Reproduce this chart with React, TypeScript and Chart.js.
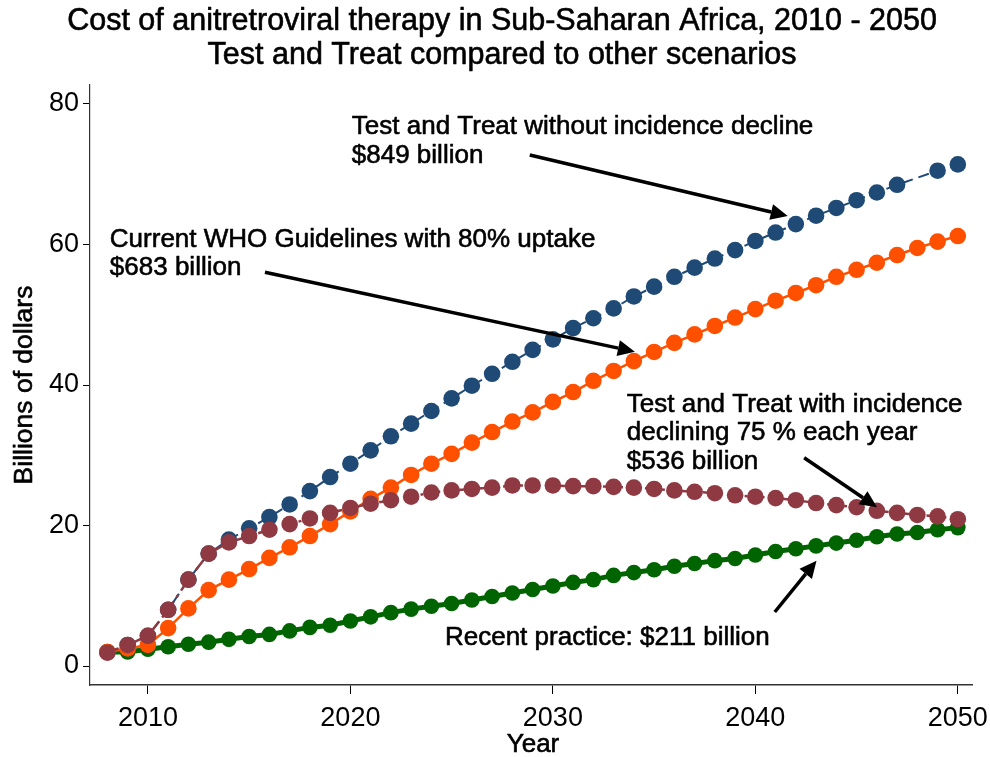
import React, { useEffect, useRef } from "react";
import { Chart, registerables } from "chart.js";

Chart.register(...registerables);

const years = [
  2008, 2009, 2010, 2011, 2012, 2013, 2014, 2015, 2016, 2017, 2018, 2019, 2020, 2021, 2022,
  2023, 2024, 2025, 2026, 2027, 2028, 2029, 2030, 2031, 2032, 2033, 2034, 2035, 2036, 2037,
  2038, 2039, 2040, 2041, 2042, 2043, 2044, 2045, 2046, 2047, 2048, 2049, 2050,
];

const testTreatNoDecline = [
  2.0, 3.0, 4.3, 8.0, 12.3, 16.0, 18.0, 19.6, 21.2, 23.0, 24.9, 26.9, 28.8, 30.7, 32.7,
  34.5, 36.3, 38.1, 39.9, 41.6, 43.3, 45.0, 46.5, 48.1, 49.5, 50.9, 52.6, 54.0, 55.4, 56.7,
  58.0, 59.2, 60.5, 61.7, 62.9, 64.1, 65.2, 66.3, 67.4, 68.5, null, 70.5, 71.4,
];

const whoGuidelines = [
  2.0, 2.5, 3.0, 5.4, 8.2, 10.8, 12.3, 13.8, 15.4, 16.9, 18.5, 20.2, 22.0, 23.8, 25.4,
  27.2, 28.8, 30.2, 31.8, 33.3, 34.8, 36.1, 37.6, 39.0, 40.6, 42.0, 43.4, 44.7, 46.0, 47.2,
  48.4, 49.6, 50.8, 52.0, 53.1, 54.2, 55.4, 56.4, 57.4, 58.5, 59.5, 60.4, 61.2,
];

const testTreatDecline = [
  1.9, 3.0, 4.3, 8.0, 12.3, 16.0, 17.6, 18.5, 19.4, 20.2, 21.0, 21.8, 22.5, 23.1, 23.6,
  24.1, 24.7, 25.0, 25.2, 25.4, 25.7, 25.7, 25.7, 25.6, 25.6, 25.5, 25.4, 25.2, 25.0, 24.8,
  24.6, 24.3, 24.1, 23.9, 23.6, 23.2, 22.9, 22.6, 22.1, 21.8, 21.5, 21.3, 20.9,
];

const recentPractice = [
  2.0, 2.0, 2.4, 2.75, 3.1, 3.4, 3.8, 4.2, 4.5, 5.0, 5.5, 5.8, 6.4, 7.0, 7.6,
  8.1, 8.5, 8.9, 9.4, 9.9, 10.4, 10.9, 11.4, 11.9, 12.3, 12.9, 13.3, 13.7, 14.2, 14.6,
  15.0, 15.3, 15.8, 16.3, 16.7, 17.1, 17.5, 17.9, 18.4, 18.8, 19.0, 19.4, 19.7,
];

const xTicks = [2010, 2020, 2030, 2040, 2050];
const yTicks = [0, 20, 40, 60, 80];

const titleLines = [
  "Cost of anitretroviral therapy in Sub-Saharan Africa, 2010 - 2050",
  "Test and Treat compared to other scenarios",
];
const xTitle = "Year";
const yTitle = "Billions of dollars";

// annotation text: anchor (year, value) of first line's left/middle
const noteTexts = [
  { x: 2020.07, y: 76.7, lines: ["Test and Treat without incidence decline", "$849 billion"] },
  { x: 2008.12, y: 60.7, lines: ["Current WHO Guidelines with 80% uptake", "$683 billion"] },
  {
    x: 2033.65,
    y: 37.2,
    lines: ["Test and Treat with incidence", "declining 75 % each year", "$536 billion"],
  },
  { x: 2024.67, y: 4.0, lines: ["Recent practice: $211 billion"] },
];

// arrows: from (x1,y1) to (x2,y2) in data units
const arrows = [
  { x1: 2028.86, y1: 72.74, x2: 2041.6, y2: 64.06 },
  { x1: 2015.78, y1: 56.04, x2: 2034.05, y2: 44.74 },
  { x1: 2042.41, y1: 29.65, x2: 2046.01, y2: 22.59 },
  { x1: 2040.96, y1: 7.69, x2: 2043.02, y2: 14.99 },
];

const FONT = "'Liberation Sans', Arial, sans-serif";

function heavyText(ctx: any, t: string, x: number, y: number) {
  ctx.fillText(t, x, y);
  ctx.strokeText(t, x, y);
}

const overlayPlugin = {
  id: "overlay",
  afterDraw(chart: any) {
    const ctx = chart.ctx;
    const xs = chart.scales.x;
    const ys = chart.scales.y;
    ctx.save();
    ctx.fillStyle = "#000";
    ctx.strokeStyle = "#000";
    ctx.lineWidth = 0.6;
    ctx.lineJoin = "round";
    // title
    ctx.font = `30.5px ${FONT}`;
    ctx.textAlign = "center";
    ctx.textBaseline = "middle";
    titleLines.forEach((t, i) => heavyText(ctx, t, 502, 22 + i * 34));
    // axis titles
    ctx.font = `26px ${FONT}`;
    heavyText(ctx, xTitle, (xs.left + xs.right) / 2 + 2, 745);
    ctx.save();
    ctx.translate(25, (ys.top + ys.bottom) / 2);
    ctx.rotate(-Math.PI / 2);
    ctx.font = `26.5px ${FONT}`;
    heavyText(ctx, yTitle, 0, 0);
    ctx.restore();
    // notes
    ctx.font = `26px ${FONT}`;
    ctx.textAlign = "left";
    noteTexts.forEach((n) => {
      const px = xs.getPixelForValue(n.x);
      const py = ys.getPixelForValue(n.y);
      n.lines.forEach((l, i) => heavyText(ctx, l, px, py + i * 28.5));
    });
    // arrows
    ctx.lineWidth = 3.5;
    ctx.lineCap = "butt";
    arrows.forEach((a) => {
      const x1 = xs.getPixelForValue(a.x1);
      const y1 = ys.getPixelForValue(a.y1);
      const x2 = xs.getPixelForValue(a.x2);
      const y2 = ys.getPixelForValue(a.y2);
      const ang = Math.atan2(y2 - y1, x2 - x1);
      const hl = 17;
      const hw = 8;
      const bx = x2 - hl * Math.cos(ang);
      const by = y2 - hl * Math.sin(ang);
      ctx.beginPath();
      ctx.moveTo(x1, y1);
      ctx.lineTo(bx, by);
      ctx.stroke();
      ctx.beginPath();
      ctx.moveTo(x2, y2);
      ctx.lineTo(bx + hw * Math.sin(ang), by - hw * Math.cos(ang));
      ctx.lineTo(bx - hw * Math.sin(ang), by + hw * Math.cos(ang));
      ctx.closePath();
      ctx.fill();
    });
    ctx.restore();
  },
};

export default function App() {
  const ref = useRef<HTMLCanvasElement | null>(null);
  useEffect(() => {
    if (!ref.current) return;
    const mk = (data: (number | null)[], color: string, width: number, dash: number[], r: number) => ({
      data: years.map((y, i) => ({ x: y, y: data[i] })),
      borderColor: color,
      backgroundColor: color,
      borderWidth: width,
      borderDash: dash,
      pointRadius: r,
      pointBorderWidth: 0,
      pointBackgroundColor: color,
      pointHoverRadius: r,
      spanGaps: true,
      tension: 0,
    });
    const chart = new Chart(ref.current, {
      type: "line",
      data: {
        datasets: [
          { label: "Test and Treat with incidence decline", ...mk(testTreatDecline, "#8f3a43", 2.5, [12, 5, 3, 5], 8.3) },
          { label: "Current WHO Guidelines", ...mk(whoGuidelines, "#ff5000", 2.5, [], 8.3) },
          { label: "Test and Treat without incidence decline", ...mk(testTreatNoDecline, "#1f4a75", 2, [11, 6], 8.3) },
          { label: "Recent practice", ...mk(recentPractice, "#006400", 5, [], 7.8) },
        ],
      },
      options: {
        animation: false,
        responsive: true,
        maintainAspectRatio: false,
        layout: { padding: { left: 0, right: 18, top: 85, bottom: 0 } },
        plugins: { legend: { display: false }, tooltip: { enabled: false }, title: { display: false } },
        scales: {
          x: {
            type: "linear",
            min: 2007.14,
            max: 2050.7,
            afterFit: (s: any) => {
              s.height = 72;
              s.paddingLeft = 0;
              s.paddingRight = 0;
            },
            afterBuildTicks: (s: any) => {
              s.ticks = xTicks.map((v) => ({ value: v }));
            },
            grid: { drawOnChartArea: false, drawTicks: true, tickLength: 9, tickColor: "#000", tickWidth: 1 },
            border: { display: true, color: "#333", width: 1.5 },
            ticks: {
              color: "#000",
              font: { family: FONT, size: 27 },
              padding: 8,
              maxRotation: 0,
              callback: (v: any) => String(v),
            },
          },
          y: {
            type: "linear",
            min: -2.7,
            max: 82.7,
            afterFit: (s: any) => {
              s.width = 90;
              s.paddingTop = 0;
              s.paddingBottom = 0;
            },
            afterBuildTicks: (s: any) => {
              s.ticks = yTicks.map((v) => ({ value: v }));
            },
            grid: { drawOnChartArea: false, drawTicks: true, tickLength: 7, tickColor: "#000", tickWidth: 1 },
            border: { display: true, color: "#333", width: 1.2 },
            ticks: {
              color: "#000",
              font: { family: FONT, size: 27 },
              padding: 4,
              callback: (v: any) => String(v),
            },
          },
        },
      },
      plugins: [overlayPlugin],
    });
    return () => chart.destroy();
  }, []);
  return (
    <div style={{ position: "absolute", left: 0, top: 0, width: 990, height: 757, background: "#fff" }}>
      <canvas ref={ref} />
    </div>
  );
}
